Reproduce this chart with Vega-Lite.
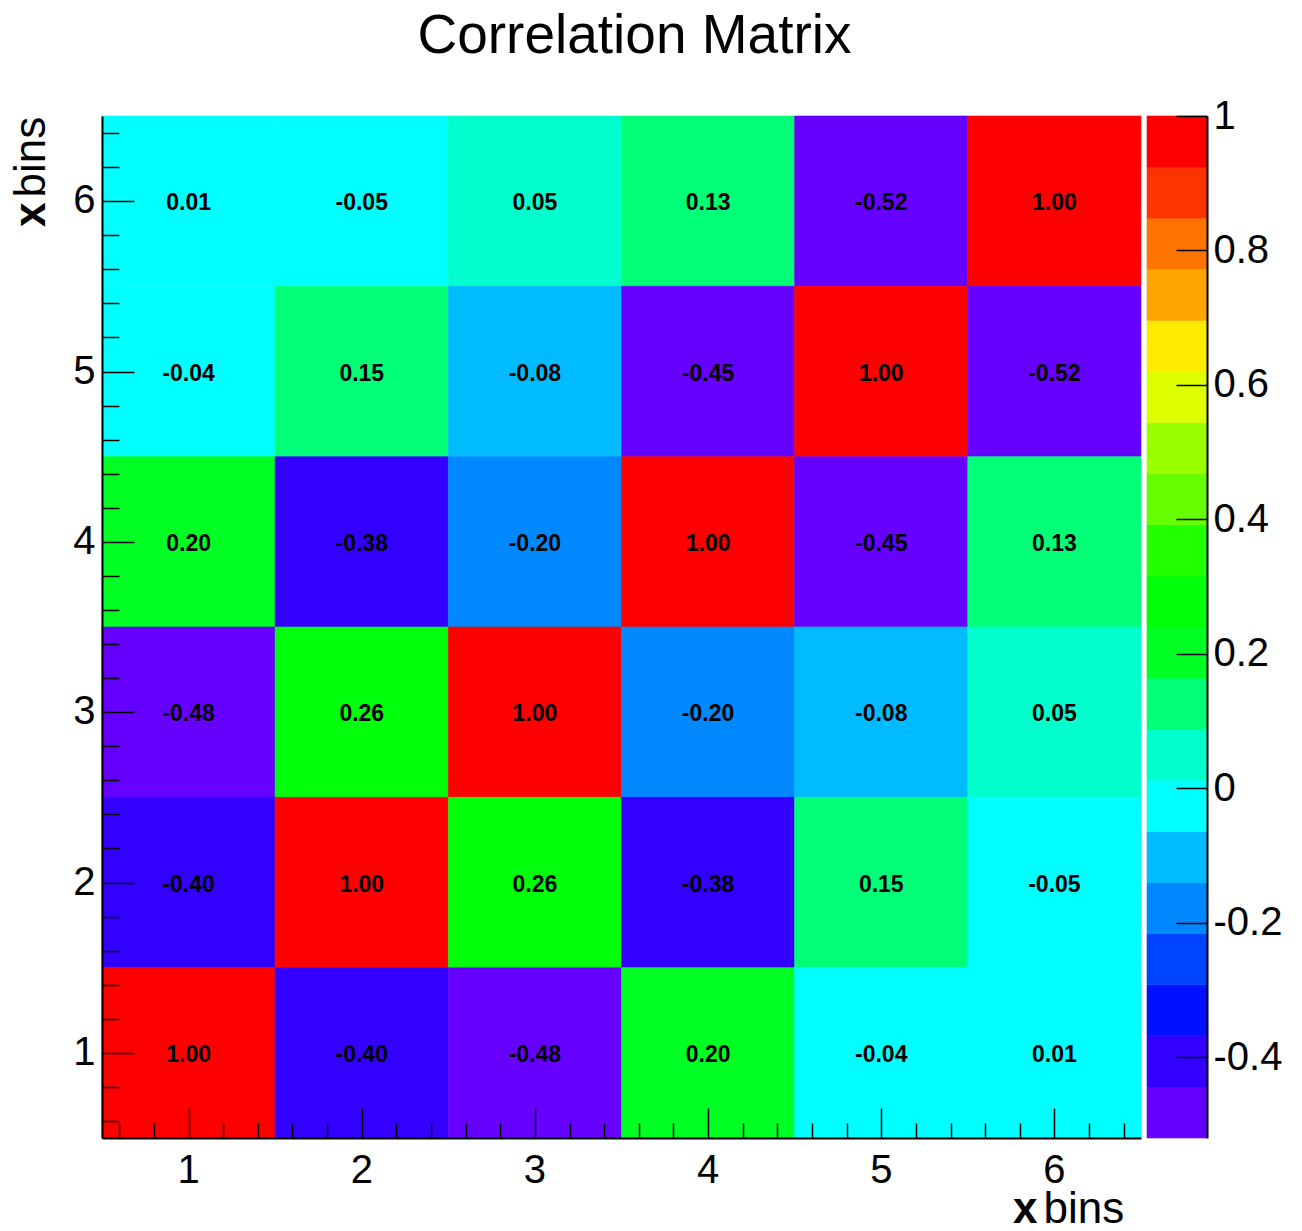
{
  "$schema": "https://vega.github.io/schema/vega-lite/v6.json",
  "width": 1105,
  "height": 1022,
  "autosize": {"type": "none"},
  "padding": {"left": 102, "top": 116, "right": 95, "bottom": 93},
  "background": "white",
  "config": {
    "locale": {"number": {"decimal": ".", "thousands": ",", "grouping": [3], "currency": ["$", ""], "minus": "-"}},
    "view": {"stroke": null},
    "font": "Liberation Sans",
    "axis": {"grid": false, "labelFont": "Liberation Sans", "titleFont": "Liberation Sans", "labelColor": "black", "titleColor": "black", "tickColor": "black", "domainColor": "black"}
  },
  "title": {
    "text": "Correlation Matrix",
    "font": "Liberation Sans",
    "fontSize": 55,
    "fontWeight": "normal",
    "color": "black",
    "anchor": "middle",
    "frame": "group",
    "dx": -20,
    "baseline": "alphabetic",
    "offset": -12
  },
  "datasets": {
    "cells": [
      {"x": 1, "y": 6, "value": 0.01}, {"x": 2, "y": 6, "value": -0.05}, {"x": 3, "y": 6, "value": 0.05}, {"x": 4, "y": 6, "value": 0.13}, {"x": 5, "y": 6, "value": -0.52}, {"x": 6, "y": 6, "value": 1.0},
      {"x": 1, "y": 5, "value": -0.04}, {"x": 2, "y": 5, "value": 0.15}, {"x": 3, "y": 5, "value": -0.08}, {"x": 4, "y": 5, "value": -0.45}, {"x": 5, "y": 5, "value": 1.0}, {"x": 6, "y": 5, "value": -0.52},
      {"x": 1, "y": 4, "value": 0.2}, {"x": 2, "y": 4, "value": -0.38}, {"x": 3, "y": 4, "value": -0.2}, {"x": 4, "y": 4, "value": 1.0}, {"x": 5, "y": 4, "value": -0.45}, {"x": 6, "y": 4, "value": 0.13},
      {"x": 1, "y": 3, "value": -0.48}, {"x": 2, "y": 3, "value": 0.26}, {"x": 3, "y": 3, "value": 1.0}, {"x": 4, "y": 3, "value": -0.2}, {"x": 5, "y": 3, "value": -0.08}, {"x": 6, "y": 3, "value": 0.05},
      {"x": 1, "y": 2, "value": -0.4}, {"x": 2, "y": 2, "value": 1.0}, {"x": 3, "y": 2, "value": 0.26}, {"x": 4, "y": 2, "value": -0.38}, {"x": 5, "y": 2, "value": 0.15}, {"x": 6, "y": 2, "value": -0.05},
      {"x": 1, "y": 1, "value": 1.0}, {"x": 2, "y": 1, "value": -0.4}, {"x": 3, "y": 1, "value": -0.48}, {"x": 4, "y": 1, "value": 0.2}, {"x": 5, "y": 1, "value": -0.04}, {"x": 6, "y": 1, "value": 0.01}
    ],
    "levels": [
      {"lo": -0.52, "hi": -0.444}, {"lo": -0.444, "hi": -0.368}, {"lo": -0.368, "hi": -0.292}, {"lo": -0.292, "hi": -0.216},
      {"lo": -0.216, "hi": -0.14}, {"lo": -0.14, "hi": -0.064}, {"lo": -0.064, "hi": 0.012}, {"lo": 0.012, "hi": 0.088},
      {"lo": 0.088, "hi": 0.164}, {"lo": 0.164, "hi": 0.24}, {"lo": 0.24, "hi": 0.316}, {"lo": 0.316, "hi": 0.392},
      {"lo": 0.392, "hi": 0.468}, {"lo": 0.468, "hi": 0.544}, {"lo": 0.544, "hi": 0.62}, {"lo": 0.62, "hi": 0.696},
      {"lo": 0.696, "hi": 0.772}, {"lo": 0.772, "hi": 0.848}, {"lo": 0.848, "hi": 0.924}, {"lo": 0.924, "hi": 1.0}
    ]
  },
  "layer": [
    {
      "data": {"name": "cells"},
      "mark": {"type": "rect", "strokeWidth": 0.6},
      "encoding": {
        "x": {
          "field": "x", "type": "ordinal",
          "scale": {"type": "band", "domain": [1, 2, 3, 4, 5, 6], "range": [0, 1039], "paddingInner": 0, "paddingOuter": 0},
          "axis": {"orient": "bottom", "zindex": 1, "labelAngle": 0, "labelFontSize": 40, "labelPadding": 12, "ticks": false, "domainWidth": 2,
                   "title": "x", "titleFontSize": 44, "titleFontWeight": "bold", "titleAlign": "right", "titleBaseline": "alphabetic", "titleX": 935, "titleY": 84}
        },
        "y": {
          "field": "y", "type": "ordinal",
          "scale": {"type": "band", "domain": [6, 5, 4, 3, 2, 1], "range": [0, 1022], "paddingInner": 0, "paddingOuter": 0},
          "axis": {"orient": "left", "zindex": 1, "labelAngle": 0, "labelFontSize": 40, "labelPadding": 7, "ticks": false, "domainWidth": 2,
                   "title": "x", "titleFontSize": 44, "titleFontWeight": "bold", "titleAngle": 270, "titleAlign": "right", "titleBaseline": "alphabetic", "titleX": -58, "titleY": 86}
        },
        "color": {
          "field": "value", "type": "quantitative",
          "scale": {"type": "threshold",
                    "domain": [-0.444, -0.368, -0.292, -0.216, -0.14, -0.064, 0.012, 0.088, 0.164, 0.24, 0.316, 0.392, 0.468, 0.544, 0.62, 0.696, 0.772, 0.848, 0.924],
                    "range": ["#6600ff", "#3300ff", "#0011ff", "#0044ff", "#0088ff", "#00bbff", "#00ffff", "#00ffcc", "#00ff77", "#00ff22", "#00ff0a", "#22ff00", "#66ff00", "#99ff00", "#ddff00", "#ffea00", "#ffa500", "#ff7300", "#ff3300", "#ff0000"]},
          "legend": null
        },
        "stroke": {
          "field": "value", "type": "quantitative",
          "scale": {"type": "threshold",
                    "domain": [-0.444, -0.368, -0.292, -0.216, -0.14, -0.064, 0.012, 0.088, 0.164, 0.24, 0.316, 0.392, 0.468, 0.544, 0.62, 0.696, 0.772, 0.848, 0.924],
                    "range": ["#6600ff", "#3300ff", "#0011ff", "#0044ff", "#0088ff", "#00bbff", "#00ffff", "#00ffcc", "#00ff77", "#00ff22", "#00ff0a", "#22ff00", "#66ff00", "#99ff00", "#ddff00", "#ffea00", "#ffa500", "#ff7300", "#ff3300", "#ff0000"]},
          "legend": null
        }
      }
    },
    {
      "data": {"name": "cells"},
      "mark": {"type": "text", "font": "Liberation Sans", "fontWeight": "bold", "fontSize": 23, "color": "black", "align": "center", "baseline": "middle", "dy": 2},
      "encoding": {
        "x": {"field": "x", "type": "ordinal", "scale": {"type": "band", "domain": [1, 2, 3, 4, 5, 6], "range": [0, 1039], "paddingInner": 0, "paddingOuter": 0}, "axis": null},
        "y": {"field": "y", "type": "ordinal", "scale": {"type": "band", "domain": [6, 5, 4, 3, 2, 1], "range": [0, 1022], "paddingInner": 0, "paddingOuter": 0}, "axis": null},
        "text": {"field": "value", "type": "quantitative", "format": ".2f"}
      }
    },
    {
      "data": {"name": "cells"},
      "mark": {"type": "point", "opacity": 0},
      "encoding": {
        "x": {
          "field": "x", "type": "quantitative",
          "scale": {"domain": [0.5, 6.5], "range": [0, 1039], "nice": false, "zero": false},
          "axis": {"orient": "bottom", "zindex": 3, "values": [0.6, 0.8, 1, 1.2, 1.4, 1.6, 1.8, 2, 2.2, 2.4, 2.6, 2.8, 3, 3.2, 3.4, 3.6, 3.8, 4, 4.2, 4.4, 4.6, 4.8, 5, 5.2, 5.4, 5.6, 5.8, 6, 6.2, 6.4],
                   "labels": false, "domain": false, "ticks": true,
                   "tickSize": {"condition": {"test": "abs(datum.value - round(datum.value)) < 0.01", "value": -30}, "value": -15}, "tickWidth": 1.5,
                   "title": "bins", "titleFontSize": 44, "titleFontWeight": "normal", "titleAlign": "left", "titleBaseline": "alphabetic", "titleX": 941, "titleY": 84}
        },
        "y": {
          "field": "y", "type": "quantitative",
          "scale": {"domain": [0.5, 6.5], "range": [1022, 0], "nice": false, "zero": false},
          "axis": {"orient": "left", "zindex": 3, "values": [0.6, 0.8, 1, 1.2, 1.4, 1.6, 1.8, 2, 2.2, 2.4, 2.6, 2.8, 3, 3.2, 3.4, 3.6, 3.8, 4, 4.2, 4.4, 4.6, 4.8, 5, 5.2, 5.4, 5.6, 5.8, 6, 6.2, 6.4],
                   "labels": false, "domain": false, "ticks": true,
                   "tickSize": {"condition": {"test": "abs(datum.value - round(datum.value)) < 0.01", "value": -32}, "value": -17}, "tickWidth": 1.5,
                   "title": "bins", "titleFontSize": 44, "titleFontWeight": "normal", "titleAngle": 270, "titleAlign": "left", "titleBaseline": "alphabetic", "titleX": -58, "titleY": 81}
        }
      }
    },
    {
      "data": {"name": "levels"},
      "mark": {"type": "rect", "strokeWidth": 0.6},
      "encoding": {
        "x": {"datum": 0, "type": "quantitative", "scale": {"domain": [0, 1], "range": [1045, 1105], "nice": false, "zero": false}, "axis": null},
        "x2": {"datum": 1},
        "y": {
          "field": "lo", "type": "quantitative",
          "scale": {"domain": [-0.52, 1.0], "range": [1022, 0], "nice": false, "zero": false},
          "axis": {"orient": "right", "zindex": 3, "values": [-0.4, -0.2, 0, 0.2, 0.4, 0.6, 0.8, 1], "format": ".1~f", "labelFontSize": 40, "labelPadding": 37,
                   "labelFlush": false, "labelOverlap": false, "labelBound": false, "labelAlign": "left", "labelBaseline": "middle",
                   "tickSize": -31, "tickWidth": 1.5, "domainWidth": 2, "title": null}
        },
        "y2": {"field": "hi"},
        "color": {
          "field": "lo", "type": "quantitative",
          "scale": {"type": "threshold",
                    "domain": [-0.444, -0.368, -0.292, -0.216, -0.14, -0.064, 0.012, 0.088, 0.164, 0.24, 0.316, 0.392, 0.468, 0.544, 0.62, 0.696, 0.772, 0.848, 0.924],
                    "range": ["#6600ff", "#3300ff", "#0011ff", "#0044ff", "#0088ff", "#00bbff", "#00ffff", "#00ffcc", "#00ff77", "#00ff22", "#00ff0a", "#22ff00", "#66ff00", "#99ff00", "#ddff00", "#ffea00", "#ffa500", "#ff7300", "#ff3300", "#ff0000"]},
          "legend": null
        },
        "stroke": {
          "field": "lo", "type": "quantitative",
          "scale": {"type": "threshold",
                    "domain": [-0.444, -0.368, -0.292, -0.216, -0.14, -0.064, 0.012, 0.088, 0.164, 0.24, 0.316, 0.392, 0.468, 0.544, 0.62, 0.696, 0.772, 0.848, 0.924],
                    "range": ["#6600ff", "#3300ff", "#0011ff", "#0044ff", "#0088ff", "#00bbff", "#00ffff", "#00ffcc", "#00ff77", "#00ff22", "#00ff0a", "#22ff00", "#66ff00", "#99ff00", "#ddff00", "#ffea00", "#ffa500", "#ff7300", "#ff3300", "#ff0000"]},
          "legend": null
        }
      }
    }
  ],
  "resolve": {
    "scale": {"x": "independent", "y": "independent"},
    "axis": {"x": "independent", "y": "independent"}
  }
}
